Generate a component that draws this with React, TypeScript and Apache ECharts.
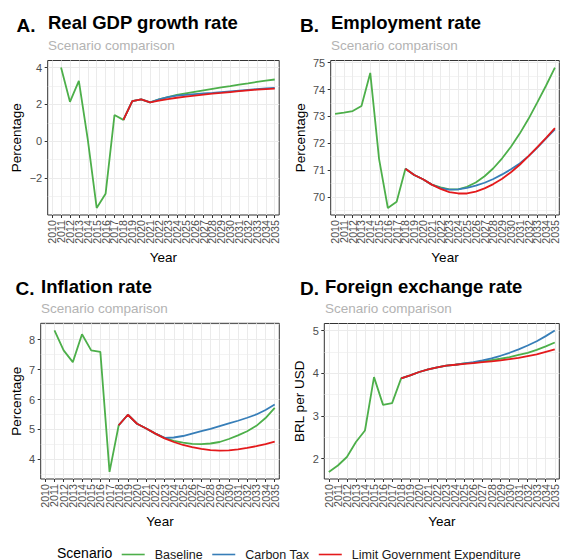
import React, { useEffect, useRef } from 'react';
import * as echarts from 'echarts';

const years = [
  '2010', '2011', '2012', '2013', '2014', '2015', '2016', '2017', '2018', '2019', '2020', '2021', '2022',
  '2023', '2024', '2025', '2026', '2027', '2028', '2029', '2030', '2031', '2032', '2033', '2034', '2035',
];

const scenarios = ['Baseline', 'Carbon Tax', 'Limit Government Expenditure'];
const scenarioColors = ['#4daf4a', '#377eb8', '#e41a1c'];

// A. Real GDP growth rate
const gdpBaseline = [null, 4.0, 2.14, 3.28, 0.1, -3.62, -2.85, 1.42, 1.16, 2.18, 2.27, 2.11, 2.27, 2.4, 2.51, 2.6, 2.68, 2.76, 2.84, 2.92, 2.99, 3.07, 3.14, 3.22, 3.29, 3.35];
const gdpCarbon = [null, null, null, null, null, null, null, null, 1.16, 2.18, 2.27, 2.11, 2.27, 2.4, 2.48, 2.52, 2.56, 2.6, 2.63, 2.67, 2.71, 2.75, 2.79, 2.83, 2.87, 2.9];
const gdpLimit = [null, null, null, null, null, null, null, null, 1.16, 2.18, 2.27, 2.11, 2.2, 2.29, 2.36, 2.42, 2.48, 2.53, 2.58, 2.62, 2.67, 2.72, 2.76, 2.8, 2.83, 2.86];

// B. Employment rate
const empBaseline = [73.09, 73.14, 73.2, 73.39, 74.62, 71.42, 69.59, 69.82, 71.05, 70.82, 70.66, 70.46, 70.36, 70.28, 70.28, 70.38, 70.54, 70.77, 71.07, 71.44, 71.87, 72.36, 72.91, 73.52, 74.15, 74.82];
const empCarbon = [null, null, null, null, null, null, null, null, 71.05, 70.82, 70.66, 70.46, 70.33, 70.27, 70.28, 70.34, 70.42, 70.53, 70.67, 70.84, 71.03, 71.25, 71.52, 71.84, 72.18, 72.52];
const empLimit = [null, null, null, null, null, null, null, null, 71.05, 70.82, 70.66, 70.46, 70.3, 70.18, 70.13, 70.13, 70.2, 70.32, 70.48, 70.68, 70.92, 71.2, 71.52, 71.86, 72.2, 72.56];

// C. Inflation rate
const infBaseline = [null, 8.31, 7.64, 7.25, 8.18, 7.64, 7.59, 3.58, 5.14, 5.49, 5.19, 5.03, 4.86, 4.72, 4.62, 4.56, 4.52, 4.51, 4.53, 4.58, 4.68, 4.8, 4.94, 5.12, 5.38, 5.72];
const infCarbon = [null, null, null, null, null, null, null, null, 5.14, 5.49, 5.19, 5.03, 4.86, 4.72, 4.73, 4.78, 4.86, 4.94, 5.02, 5.11, 5.2, 5.29, 5.39, 5.5, 5.65, 5.83];
const infLimit = [null, null, null, null, null, null, null, null, 5.14, 5.49, 5.19, 5.03, 4.86, 4.7, 4.58, 4.48, 4.41, 4.35, 4.31, 4.29, 4.3, 4.33, 4.38, 4.44, 4.51, 4.59];

// D. Foreign exchange rate
const fxBaseline = [1.69, 1.84, 2.04, 2.39, 2.66, 3.91, 3.26, 3.3, 3.88, 3.95, 4.03, 4.09, 4.14, 4.18, 4.2, 4.23, 4.25, 4.28, 4.31, 4.34, 4.38, 4.43, 4.48, 4.55, 4.63, 4.72];
const fxCarbon = [null, null, null, null, null, null, null, null, 3.88, 3.95, 4.03, 4.09, 4.14, 4.18, 4.2, 4.23, 4.26, 4.3, 4.35, 4.41, 4.48, 4.56, 4.65, 4.75, 4.87, 5.0];
const fxLimit = [null, null, null, null, null, null, null, null, 3.88, 3.95, 4.03, 4.09, 4.14, 4.18, 4.2, 4.22, 4.24, 4.26, 4.28, 4.3, 4.33, 4.36, 4.4, 4.44, 4.5, 4.56];

const yTicksA = [-2, 0, 2, 4];
const yTicksB = [70, 71, 72, 73, 74, 75];
const yTicksC = [4, 5, 6, 7, 8];
const yTicksD = [2, 3, 4, 5];

const tags = ['A.', 'B.', 'C.', 'D.'];
const titles = ['Real GDP growth rate', 'Employment rate', 'Inflation rate', 'Foreign exchange rate'];
const subtitle = 'Scenario comparison';
const yNames = ['Percentage', 'Percentage', 'Percentage', 'BRL per USD'];
const xName = 'Year';
const legendTitle = 'Scenario';

const FONT = '"Liberation Sans", Arial, Helvetica, sans-serif';

const panels = [
  { grid: { left: 47.7, top: 60.5, width: 231.5, height: 154.5 }, tagX: 16.5, titleX: 48, yTop: 0, nameGap: 24, yTicks: yTicksA, data: [gdpBaseline, gdpCarbon, gdpLimit] },
  { grid: { left: 330.7, top: 60.5, width: 228.6, height: 154.5 }, tagX: 300, titleX: 331, yTop: 0, nameGap: 23, yTicks: yTicksB, data: [empBaseline, empCarbon, empLimit] },
  { grid: { left: 40.7, top: 323.3, width: 238.6, height: 155.7 }, tagX: 15.5, titleX: 41, yTop: 263.3, nameGap: 17, yTicks: yTicksC, data: [infBaseline, infCarbon, infLimit] },
  { grid: { left: 324.3, top: 323.5, width: 235, height: 155.5 }, tagX: 300, titleX: 325, yTop: 263.3, nameGap: 17.5, yTicks: yTicksD, data: [fxBaseline, fxCarbon, fxLimit] },
];

const expandMin = (v: { min: number; max: number }) => v.min - 0.05 * (v.max - v.min);
const expandMax = (v: { min: number; max: number }) => v.max + 0.05 * (v.max - v.min);

function textEl(text: string, x: number, y: number, fontSize: number, fontWeight: string, fill: string, lineHeight?: number) {
  const style: any = { text, fontSize, fontWeight, fill, fontFamily: FONT, align: 'left', verticalAlign: 'middle' };
  if (lineHeight) style.lineHeight = lineHeight;
  return { type: 'text', x, y, silent: true, style };
}

export default function App() {
  const ref = useRef<HTMLDivElement>(null);

  useEffect(() => {
    if (!ref.current) return;
    const chart = echarts.init(ref.current, undefined, { renderer: 'svg' });

    const grids = panels.map((p) => ({
      ...p.grid,
      show: true,
      borderColor: '#333333',
      borderWidth: 1,
      backgroundColor: 'transparent',
      containLabel: false,
    }));

    const xAxes = panels.map((p, i) => ({
      type: 'category',
      gridIndex: i,
      position: 'bottom',
      data: years,
      boundaryGap: true,
      name: xName,
      nameLocation: 'middle',
      nameGap: 35,
      nameTextStyle: { fontSize: 13.5, color: '#000000', fontFamily: FONT },
      axisLine: { show: false, onZero: false },
      axisTick: { show: true, interval: 0, alignWithLabel: true, length: 3, lineStyle: { color: '#333333', width: 1 } },
      axisLabel: { rotate: 90, interval: 0, fontSize: 10.7, color: '#4d4d4d', margin: 5, fontFamily: FONT },
      splitLine: { show: true, interval: 0, alignWithLabel: true, lineStyle: { color: '#ebebeb', width: 1 } },
    }));

    const yAxes = panels.map((p, i) => ({
      type: 'value',
      gridIndex: i,
      position: 'left',
      min: expandMin,
      max: expandMax,
      splitNumber: 5,
      name: yNames[i],
      nameLocation: 'middle',
      nameGap: p.nameGap,
      nameTextStyle: { fontSize: 13.5, color: '#000000', fontFamily: FONT },
      axisLine: { show: false, onZero: false },
      axisTick: { show: true, length: 3, customValues: p.yTicks, lineStyle: { color: '#333333', width: 1 } },
      axisLabel: {
        customValues: p.yTicks,
        fontSize: 11,
        color: '#4d4d4d',
        margin: 5.5,
        fontFamily: FONT,
        formatter: (v: number) => String(v).replace('-', '\u2212'),
      },
      splitLine: { show: true, lineStyle: { color: '#ebebeb', width: 1 } },
      minorTick: { show: false, splitNumber: 2 },
      minorSplitLine: { show: true, lineStyle: { color: '#ebebeb', width: 0.6 } },
    }));

    const series: any[] = [];
    panels.forEach((p, i) => {
      p.data.forEach((vals, s) => {
        series.push({
          type: 'line',
          name: scenarios[s],
          xAxisIndex: i,
          yAxisIndex: i,
          data: vals,
          showSymbol: false,
          symbol: 'none',
          connectNulls: false,
          lineStyle: { color: scenarioColors[s], width: 1.8 },
          itemStyle: { color: scenarioColors[s] },
          z: 2 + s,
        });
      });
    });

    const graphics: any[] = [];
    panels.forEach((p, i) => {
      graphics.push(textEl(tags[i], p.tagX, 25 + p.yTop, 19, 'bold', '#000000'));
      graphics.push(textEl(titles[i], p.titleX, 22.7 + p.yTop, 18.5, 'bold', '#000000'));
      graphics.push(textEl(subtitle, p.titleX, 45.3 + p.yTop, 13.5, 'normal', '#b3b3b3'));
    });
    graphics.push(textEl(legendTitle, 57, 552.9, 14, 'normal', '#000000', 12));

    chart.setOption({
      animation: false,
      backgroundColor: '#ffffff',
      textStyle: { fontFamily: FONT },
      grid: grids,
      xAxis: xAxes,
      yAxis: yAxes,
      series,
      graphic: graphics,
      legend: {
        data: scenarios.map((name, s) => ({ name, icon: 'rect', itemStyle: { color: scenarioColors[s] } })),
        left: 121.7,
        top: 548,
        padding: 0,
        itemWidth: 23,
        itemHeight: 1.6,
        itemGap: 9.6,
        selectedMode: false,
        textStyle: { fontSize: 12.5, lineHeight: 12, color: '#1a1a1a', fontFamily: FONT, padding: [0, 0, 0, 5] },
      },
    });

    return () => chart.dispose();
  }, []);

  return (
    <div
      ref={ref}
      style={{ position: 'fixed', left: 0, top: 0, width: 561, height: 560, background: '#ffffff' }}
    />
  );
}
